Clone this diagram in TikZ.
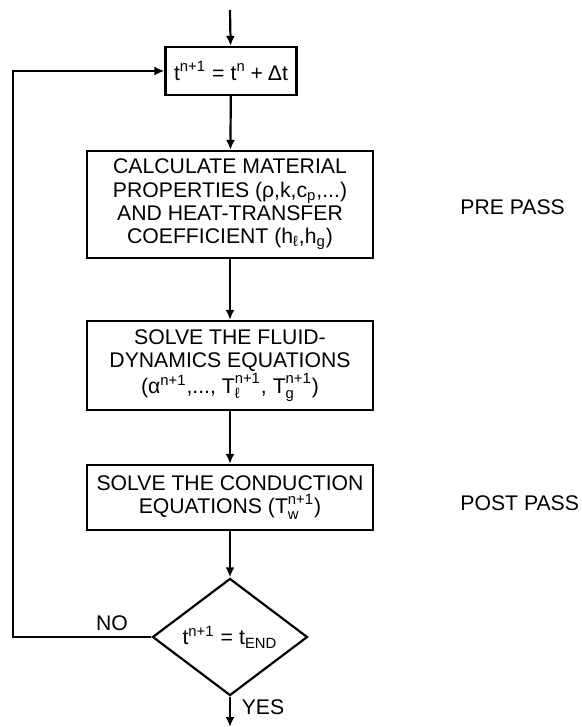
\documentclass[tikz,border=0pt]{standalone}
\usepackage{amsmath}
\usepackage{fontspec}
\setmainfont{Liberation Sans}
\usepackage{tikz}
\usetikzlibrary{
  shapes.geometric, arrows.meta
}
\newcommand{\seq}{\mathrel{\text{=}}}
\newcommand{\splus}{\mathbin{\text{+}}}
\tikzset{
	boxnode/.style={
			draw=black,
			line width=1.1pt,
			fill=white,
			align=center,
			inner sep=0pt,
			minimum width=143pt,
			font=\fontsize{10.6}{11.6}\selectfont
		},
	stepnode/.style={
			boxnode,
			minimum width=65.5pt,
			minimum height=24pt
		},
	decisionnode/.style={
			boxnode,
			diamond,
			minimum width=77.5pt,
			minimum height=51.5pt
		},
	labelnode/.style={
			draw=none,
			inner sep=0pt,
			font=\fontsize{10.6}{11.6}\selectfont
		},
	flowline/.style={
			line width=1.1pt,
			-{Latex[length=5pt,width=4.5pt]}
		}
}

\begin{document}
\begin{tikzpicture}[x=0.5pt,y=-0.5pt]
\useasboundingbox (0,0) rectangle (582,727);

\coordinate (tIn) at (230,10);
\coordinate (tOut) at (230,727);
\coordinate (tLoop) at (13,637);

\node[stepnode] (bStep) at (231,71) {$\text{t}^{\text{n+1}} \seq \text{t}^{\text{n}} \splus \text{Δt}$};
\node[boxnode, minimum height=53.5pt] (bProp) at (230,204.5) {CALCULATE MATERIAL\\PROPERTIES (ρ,k,c\textsubscript{p},...)\\AND HEAT-TRANSFER\\COEFFICIENT (h\textsubscript{ℓ},h\textsubscript{g})};
\node[boxnode, minimum height=44.5pt] (bFluid) at (230,365.5) {SOLVE THE FLUID-\\DYNAMICS EQUATIONS\\($\text{α}^{\text{n+1}}$,..., $\text{T}^{\text{n+1}}_{\text{ℓ}}$, $\text{T}^{\text{n+1}}_{\text{g}}$)};
\node[boxnode, minimum height=32.5pt] (bCond) at (230,497.5) {SOLVE THE CONDUCTION\\EQUATIONS ($\text{T}^{\text{n+1}}_{\text{w}}$)};
\node[decisionnode] (dEnd) at (230,637) {$\text{t}^{\text{n+1}} \seq \text{t}_{\text{END}}$};

\node[labelnode] (lNo) at (112,623) {NO};
\node[labelnode] (lYes) at (263,707) {YES};
\node[labelnode, anchor=west] (lPre) at (460,207) {PRE PASS};
\node[labelnode, anchor=west] (lPost) at (460,503) {POST PASS};

\draw[flowline] (tIn) -- (bStep);
\draw[flowline] (bStep) -- (bProp);
\draw[flowline] (bProp) -- (bFluid);
\draw[flowline] (bFluid) -- (bCond);
\draw[flowline] (bCond) -- (dEnd);
\draw[flowline] (dEnd) -- (tOut);
\draw[flowline] (dEnd.west) -- (tLoop) |- (bStep.west);

\end{tikzpicture}
\end{document}
